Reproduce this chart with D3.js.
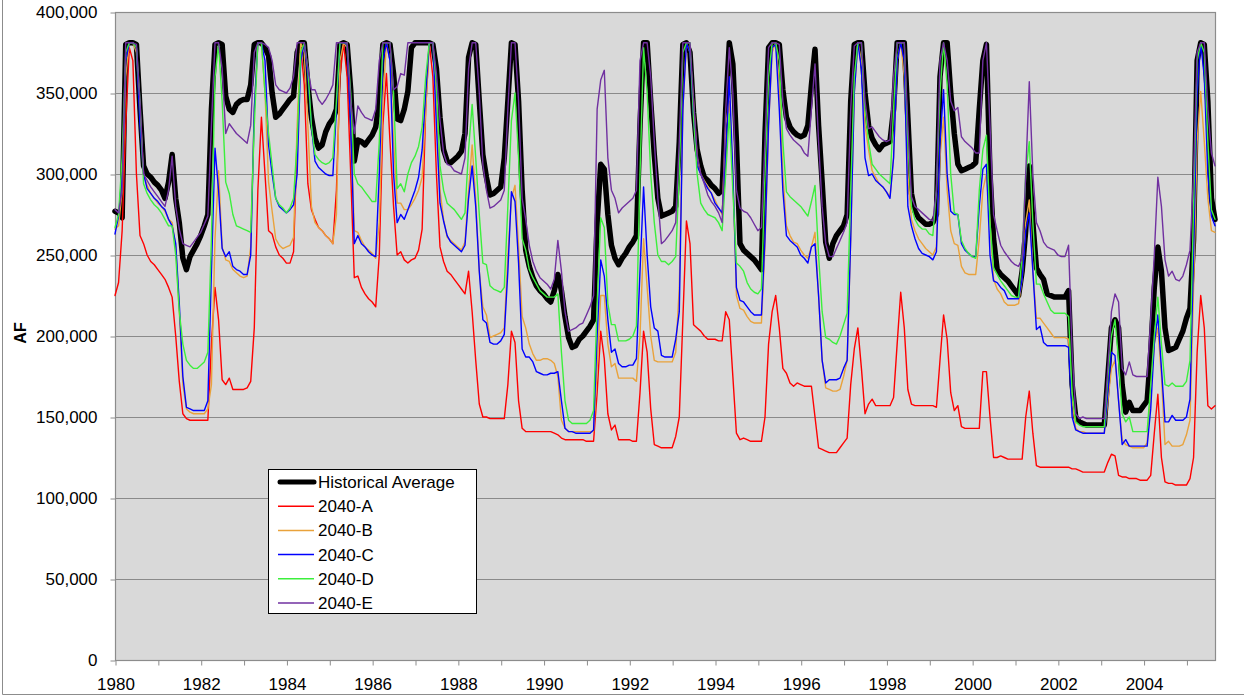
<!DOCTYPE html>
<html><head><meta charset="utf-8">
<script src="https://cdn.jsdelivr.net/npm/d3@7"></script>
<style>
body{margin:0;background:#fff}
svg{display:block}
text{font-family:"Liberation Sans",Arial,Helvetica,sans-serif;fill:#000}
</style>
</head><body>
<svg id="chart" width="1244" height="696"></svg>
<script>
// ---- data (thousand acre-feet, monthly from Jan 1980) ----
const startYear = 1980;
const yearLabels = ["1980","1982","1984","1986","1988","1990","1992","1994","1996","1998","2000","2002","2004"];
const yTickValues = [0,50000,100000,150000,200000,250000,300000,350000,400000];
const seriesNames = ["Historical Average","2040-A","2040-B","2040-C","2040-D","2040-E"];

const histAvg = [
277,276,273,380,381,381,380,340,305,300,298,295,
293,290,285,295,312,285,270,248,241,249,253,257,
262,268,275,340,380,381,380,348,340,338,343,345,
346,346,355,380,381,381,378,373,350,335,337,340,
343,346,348,375,381,381,355,335,322,316,318,326,
331,334,340,380,381,380,352,308,321,320,318,321,
324,329,345,380,381,380,362,334,333,340,351,378,
381,381,381,381,381,380,365,335,315,308,307,309,
311,314,325,372,381,380,345,312,298,287,288,290,
292,310,345,381,380,345,290,253,243,236,231,228,
226,223,221,228,238,228,212,199,193,194,198,200,
203,206,210,270,306,303,275,256,248,244,248,251,
255,258,262,330,381,381,345,312,285,274,275,276,
277,280,320,380,381,375,338,315,305,298,296,293,
291,288,290,340,381,368,320,257,253,251,249,247,
244,241,325,378,381,381,380,352,335,329,326,324,
323,324,330,355,377,330,295,258,248,257,262,265,
268,275,345,380,381,381,350,330,322,318,315,318,
319,320,340,381,381,381,335,288,277,273,271,269,
269,270,275,360,381,381,350,325,306,302,303,304,
305,307,340,370,380,300,260,241,238,236,234,231,
228,225,240,265,305,270,242,238,235,226,225,224,
224,224,224,228,170,150,147,146,145,145,145,145,
145,145,175,205,210,205,170,153,159,154,154,154,
157,160,190,230,255,240,205,191,192,193,198,203,
211,217,260,370,381,380,345,285,272];

const s2040A = [
225,233,265,330,378,370,300,262,257,250,246,244,
241,238,235,230,224,200,172,152,149,148,148,148,
148,148,148,195,230,210,173,170,174,167,167,167,
167,168,172,205,290,335,300,265,263,255,250,248,
245,245,252,320,378,355,294,278,272,267,265,262,
260,257,290,360,381,360,300,236,237,230,226,223,
221,218,250,330,362,320,280,250,252,247,245,247,
248,253,266,340,381,360,300,255,246,240,238,235,
232,229,226,240,215,185,158,150,150,149,149,149,
149,149,170,203,196,160,143,141,141,141,141,141,
141,141,141,140,139,137,136,136,136,136,136,136,
135,135,135,165,203,186,152,142,145,136,136,136,
136,135,135,165,203,190,155,133,132,131,131,131,
131,138,150,210,271,257,207,205,203,200,198,198,
198,197,197,215,210,175,140,136,137,136,135,135,
135,135,150,195,215,225,205,180,177,171,169,171,
170,169,169,169,150,131,130,129,128,128,128,131,
134,137,170,192,205,180,152,158,161,157,157,157,
157,157,162,195,227,205,167,158,157,157,157,157,
157,157,156,185,213,198,165,154,157,144,143,143,
143,143,143,178,178,150,125,125,126,125,124,124,
124,124,124,150,166,140,120,119,119,119,119,119,
119,119,119,119,118,118,117,116,116,116,116,116,
116,116,122,127,126,114,113,113,112,112,112,111,
111,111,114,140,164,125,110,109,109,108,108,108,
108,112,125,190,225,205,157,155,157];

const s2040B = [
266,268,290,360,381,381,375,340,300,293,288,285,
282,280,277,272,270,255,215,170,155,153,152,152,
152,152,155,170,260,302,255,247,246,241,239,237,
236,237,255,340,381,381,350,295,277,260,256,254,
255,256,261,330,381,375,330,280,270,267,265,262,
260,257,275,370,381,378,335,265,264,259,255,253,
251,248,270,345,381,370,320,282,282,278,278,281,
285,290,298,340,381,381,345,290,272,261,259,257,
255,253,258,290,318,285,240,218,213,199,200,201,
202,205,250,285,293,255,212,205,195,189,185,185,
186,186,185,183,175,148,143,141,141,141,141,141,
141,141,141,180,225,225,195,181,183,174,174,174,
174,174,172,200,260,230,200,185,184,184,184,184,
184,190,230,340,381,375,345,310,300,296,292,288,
284,279,275,330,345,300,225,217,216,212,209,208,
208,208,255,330,375,381,355,300,268,262,258,257,
253,250,248,255,264,225,185,168,167,166,166,167,
175,185,260,350,381,370,330,315,302,298,294,292,
289,286,310,370,381,360,300,272,265,260,257,254,
252,250,255,310,335,290,265,257,256,243,239,238,
238,238,260,290,300,270,235,229,226,221,219,219,
219,220,235,270,284,240,211,211,208,205,202,199,
199,199,199,198,160,143,141,141,140,140,140,140,
140,140,160,180,185,160,136,133,132,131,131,131,
131,134,165,195,205,175,133,135,132,132,132,133,
139,148,230,320,351,320,285,265,264];

const s2040C = [
263,274,300,370,381,381,378,330,300,291,288,285,
283,280,278,272,268,257,220,175,156,155,154,154,
154,154,160,240,316,290,254,249,252,243,241,240,
238,238,250,340,381,381,370,318,300,285,280,278,
276,278,281,300,370,381,360,330,308,304,302,300,
299,299,340,381,381,380,330,257,262,257,255,252,
250,249,300,370,381,370,300,270,275,272,278,284,
290,298,315,350,381,381,330,282,271,262,258,256,
254,252,256,285,305,280,240,210,208,196,195,195,
197,201,240,289,283,245,192,187,187,184,178,177,
176,176,177,177,178,160,143,141,141,140,140,140,
140,140,142,200,247,237,210,190,192,183,181,181,
182,182,186,240,292,250,218,205,203,188,187,187,
187,198,215,340,381,375,335,305,300,295,291,288,
282,279,276,310,360,300,230,222,221,218,215,213,
213,213,260,330,378,380,340,290,262,259,257,255,
250,248,245,255,257,225,185,171,173,173,173,174,
180,185,260,350,381,365,310,299,300,296,294,292,
289,285,310,370,381,370,280,268,260,254,251,250,
249,247,252,320,352,300,277,275,275,257,253,251,
249,249,280,303,306,250,234,233,230,228,223,223,
223,223,235,265,276,240,204,206,196,194,194,194,
194,194,194,193,150,142,141,140,140,140,140,140,
140,140,165,190,188,160,133,136,132,132,132,132,
132,132,155,195,213,180,147,147,151,148,148,148,
150,161,250,350,381,360,300,274,268];

const s2040D = [
267,275,310,375,381,381,378,345,294,288,284,281,
279,276,272,268,268,250,215,195,185,182,180,180,
182,184,190,260,360,380,345,295,288,275,268,267,
266,265,264,330,381,381,350,325,305,285,281,279,
276,279,285,320,375,381,365,330,312,309,307,306,
307,310,345,381,381,381,350,300,294,292,289,286,
283,283,320,381,381,381,350,291,294,289,300,307,
311,317,329,360,381,381,355,305,290,282,280,278,
275,272,276,315,343,310,275,245,244,231,229,228,
227,230,280,333,350,310,260,253,241,236,232,228,
226,224,224,224,226,190,160,148,146,146,146,146,
146,148,154,220,273,267,220,207,207,197,197,197,
198,200,206,300,378,350,300,270,250,246,246,244,
246,249,300,375,381,381,335,300,282,278,275,274,
273,270,265,300,337,290,245,243,240,233,229,227,
226,229,300,360,381,381,370,320,289,286,284,282,
280,277,274,283,293,250,215,199,198,196,195,200,
207,214,290,360,381,381,340,320,306,303,300,298,
296,294,340,381,381,381,320,280,272,268,266,266,
263,262,290,350,381,355,300,276,275,259,254,251,
249,248,290,315,324,270,242,238,234,231,228,225,
224,224,250,300,320,270,232,232,226,221,216,214,
214,214,214,212,165,147,145,144,144,144,144,144,
144,144,175,200,210,185,152,147,150,141,141,141,
141,141,170,200,224,195,170,169,171,169,169,169,
172,185,280,370,381,375,320,278,272];

const s2040E = [
278,276,290,381,381,381,380,345,300,296,292,289,
286,283,280,290,311,280,266,257,256,255,258,261,
264,269,274,330,381,381,365,325,331,328,325,323,
321,319,330,375,381,381,380,378,370,355,352,351,
350,353,360,381,381,381,365,352,352,346,343,346,
350,355,381,381,381,381,345,325,342,338,335,334,
333,340,370,381,381,381,352,354,362,361,381,381,
381,381,381,381,381,381,362,333,313,306,305,302,
301,300,310,365,381,381,350,306,290,279,280,282,
284,290,340,381,381,345,285,272,256,246,240,236,
234,232,229,235,259,240,215,203,204,205,207,208,
213,218,225,340,358,364,310,290,285,276,279,281,
283,285,290,370,381,381,360,320,285,257,259,262,
265,270,320,381,381,381,345,312,300,294,287,283,
280,276,270,340,378,350,290,279,277,276,273,269,
265,267,320,378,381,381,380,345,328,324,321,319,
317,313,311,340,368,320,280,257,249,249,254,259,
264,270,340,379,381,381,345,328,329,326,323,321,
320,321,360,381,381,381,330,286,280,278,276,274,
272,271,290,370,381,370,345,339,341,323,320,318,
316,313,313,370,381,330,275,265,256,252,249,246,
244,243,248,300,357,300,270,265,258,255,254,253,
250,249,249,256,190,152,149,150,149,149,149,149,
149,149,180,215,226,221,180,176,184,176,175,175,
175,175,210,250,298,280,247,237,240,235,234,237,
244,253,300,375,381,381,340,313,305];

const unit = 1000;
const seriesValues = [histAvg, s2040A, s2040B, s2040C, s2040D, s2040E];
const seriesColors = ["#000000","#ff0000","#e9a23b","#0000ff","#3cef3c","#7030a0"];
const seriesWidths = [5.5,1.4,1.4,1.4,1.4,1.4];

(function draw(){
const svg = d3.select("#chart");
const pL = 115, pR = 1215, pT = 12, pB = 660;
const nPts = histAvg.length;

const x = d3.scaleLinear().domain([0, nPts - 1]).range([pL, pR]);
const y = d3.scaleLinear().domain([0, 400000]).range([pB, pT]);

// outer chart border (left + bottom)
svg.append("path").attr("d","M2.5,0V694.5H1244").attr("fill","none").attr("stroke","#8c8c8c").attr("stroke-width",1);

// plot background
svg.append("rect").attr("x",pL).attr("y",pT).attr("width",pR-pL).attr("height",pB-pT)
  .attr("fill","#d9d9d9");

// gridlines
svg.append("g").selectAll("line").data(yTickValues.filter(v=>v>0 && v<400000)).join("line")
  .attr("x1",pL).attr("x2",pR)
  .attr("y1",d=>Math.round(y(d))+0.5).attr("y2",d=>Math.round(y(d))+0.5)
  .attr("stroke","#8a8a8a").attr("stroke-width",1.2);

// plot border
svg.append("rect").attr("x",pL+0.5).attr("y",pT+0.5).attr("width",pR-pL).attr("height",pB-pT)
  .attr("fill","none").attr("stroke","#8c8c8c").attr("stroke-width",1.2);

// y axis
const yAxis = d3.axisLeft(y).tickValues(yTickValues).tickFormat(d3.format(",")).tickSize(5).tickPadding(13);
const gy = svg.append("g").attr("transform",`translate(${pL+0.5},0.5)`).call(yAxis);
gy.select(".domain").remove();
gy.selectAll(".tick line").attr("stroke","#8c8c8c");
gy.selectAll("text").attr("font-size",17).attr("font-family",'"Liberation Sans",Arial,sans-serif').attr("fill","#000");

// x axis: tick every 12 months, label every 24 months
const yearTicks = d3.range(0, nPts, 12);
const xAxis = d3.axisBottom(x).tickValues(yearTicks).tickSize(5).tickPadding(12)
  .tickFormat(d => { const yr = String(startYear + d/12); return yearLabels.includes(yr) ? yr : ""; });
const gx = svg.append("g").attr("transform",`translate(0.5,${pB+0.5})`).call(xAxis);
gx.select(".domain").remove();
gx.selectAll(".tick line").attr("stroke","#8c8c8c");
gx.selectAll("text").attr("font-size",17).attr("font-family",'"Liberation Sans",Arial,sans-serif').attr("fill","#000");

// axis title
svg.append("text").attr("transform","translate(26,333) rotate(-90)").attr("text-anchor","middle")
  .attr("font-size",16).attr("font-weight","bold").text("AF");

// lines
const line = d3.line().x((d,i)=>x(i)).y(d=>y(d*unit));
const gl = svg.append("g");
seriesValues.forEach((vals,k)=>{
  gl.append("path").datum(vals).attr("d",line).attr("fill","none")
    .attr("stroke",seriesColors[k]).attr("stroke-width",seriesWidths[k])
    .attr("stroke-linejoin","round").attr("stroke-linecap","round");
});

// legend
const lg = svg.append("g");
lg.append("rect").attr("x",268.5).attr("y",469.5).attr("width",208).attr("height",144)
  .attr("fill","#fff").attr("stroke","#000").attr("stroke-width",1);
const rowY = d3.scaleLinear().domain([0,5]).range([482,603]);
seriesNames.forEach((name,k)=>{
  const yy = rowY(k);
  lg.append("line").attr("x1",k===0?280:278).attr("x2",314).attr("y1",yy).attr("y2",yy)
    .attr("stroke",seriesColors[k]).attr("stroke-width",k===0?5:1.5).attr("stroke-linecap",k===0?"round":"butt");
  lg.append("text").attr("x",318).attr("y",yy).attr("dy","0.35em").attr("font-size",17).text(name);
});
})();
</script>
</body></html>
